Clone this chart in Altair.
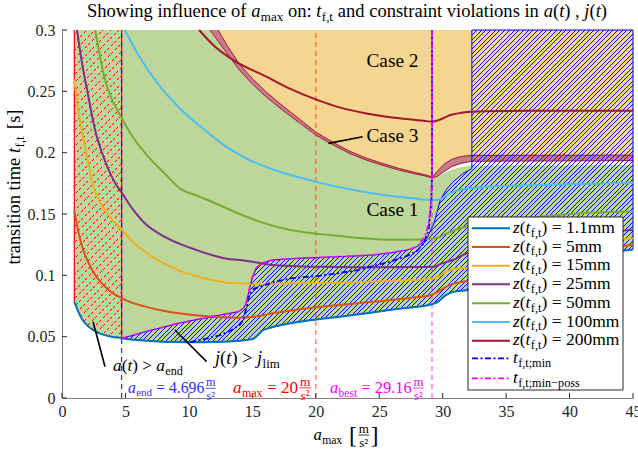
import altair as alt
import pandas as pd

# ---------------- data ----------------
a_11 = [0.97, 1.3, 1.6, 2.0, 2.6, 3.3, 3.9, 4.7, 5.3, 6.5, 7.9, 9.0, 10.5, 12.0, 13.1, 14.0, 15.0, 15.4, 15.8, 16.5, 18.0, 20.0, 21.9, 24.0, 25.8, 27.5, 28.5, 29.2, 29.7, 30.2, 30.8, 31.5, 32.5, 34.0, 36.0, 37.5, 39.0, 41.0, 43.0, 45.0]
t_11 = [0.0785, 0.0700, 0.0640, 0.0590, 0.0545, 0.0515, 0.0500, 0.0488, 0.0478, 0.0468, 0.0459, 0.0456, 0.0454, 0.0456, 0.0460, 0.0466, 0.0480, 0.0510, 0.0550, 0.0575, 0.0609, 0.0640, 0.0663, 0.0690, 0.0717, 0.0738, 0.0750, 0.0765, 0.0790, 0.0835, 0.0865, 0.0875, 0.0885, 0.0920, 0.0980, 0.1080, 0.1140, 0.1165, 0.1185, 0.1210]

a_5 = [0.97, 1.3, 1.6, 2.1, 2.7, 3.4, 4.0, 4.73, 5.5, 6.57, 7.8, 9.2, 10.5, 11.8, 13.0, 14.0, 15.0, 16.6, 18.5, 20.6, 22.5, 24.5, 26.5, 28.2, 29.0, 29.5, 30.0, 30.8, 31.5, 32.5, 35.0, 38.0, 41.0, 45.0]
t_5 = [0.1530, 0.1350, 0.1230, 0.1100, 0.0990, 0.0907, 0.0855, 0.0813, 0.0778, 0.0745, 0.0715, 0.0690, 0.0675, 0.0663, 0.0658, 0.0655, 0.0660, 0.0690, 0.0720, 0.0745, 0.0765, 0.0785, 0.0805, 0.0826, 0.0835, 0.0860, 0.0890, 0.0930, 0.0945, 0.0955, 0.1000, 0.1120, 0.1190, 0.1250]

a_15 = [0.97, 1.2, 1.58, 2.1, 2.5, 3.4, 4.0, 4.73, 5.5, 6.57, 7.8, 9.2, 10.5, 11.8, 13.0, 14.0, 15.0, 18.0, 21.9, 25.8, 28.2, 29.3, 29.8, 30.3, 30.8, 31.9, 34.0, 37.0, 40.0, 45.0]
t_15 = [0.2600, 0.2400, 0.2180, 0.1900, 0.1720, 0.1530, 0.1450, 0.1370, 0.1280, 0.1190, 0.1110, 0.1040, 0.0995, 0.0962, 0.0940, 0.0935, 0.0930, 0.0935, 0.0940, 0.0954, 0.0965, 0.0975, 0.1000, 0.1030, 0.1050, 0.1060, 0.1080, 0.1180, 0.1250, 0.1300]

a_25 = [1.18, 1.58, 2.0, 2.62, 3.4, 4.2, 4.73, 5.5, 6.57, 7.8, 9.2, 10.5, 11.8, 13.0, 14.0, 15.0, 16.6, 18.5, 20.6, 24.5, 28.2, 29.3, 29.8, 30.3, 30.8, 31.9, 34.0, 37.0, 40.0, 45.0]
t_25 = [0.3000, 0.2730, 0.2500, 0.2180, 0.1930, 0.1750, 0.1670, 0.1550, 0.1420, 0.1330, 0.1260, 0.1210, 0.1166, 0.1135, 0.1125, 0.1110, 0.1084, 0.1075, 0.1070, 0.1065, 0.1068, 0.1070, 0.1090, 0.1110, 0.1125, 0.1180, 0.1220, 0.1300, 0.1340, 0.1370]

a_50 = [2.62, 3.0, 3.4, 4.0, 4.67, 5.5, 6.57, 8.0, 9.46, 10.5, 11.8, 13.0, 14.0, 15.8, 18.0, 20.0, 21.9, 24.0, 25.8, 28.2, 29.2, 29.8, 30.3, 31.0, 31.9, 34.0, 37.0, 40.0, 45.0]
t_50 = [0.3000, 0.2780, 0.2590, 0.2420, 0.2290, 0.2140, 0.1995, 0.1840, 0.1696, 0.1655, 0.1600, 0.1545, 0.1500, 0.1430, 0.1370, 0.1340, 0.1320, 0.1300, 0.1290, 0.1293, 0.1298, 0.1315, 0.1340, 0.1370, 0.1400, 0.1430, 0.1470, 0.1500, 0.1520]

a_100 = [4.96, 6.0, 7.72, 9.5, 11.3, 12.5, 14.8, 17.0, 20.1, 22.5, 25.3, 27.5, 29.0, 29.5, 30.0, 30.6, 31.5, 33.5, 37.0, 41.0, 45.0]
t_100 = [0.3000, 0.2800, 0.2540, 0.2340, 0.2180, 0.2080, 0.1940, 0.1850, 0.1760, 0.1705, 0.1655, 0.1630, 0.1614, 0.1615, 0.1630, 0.1669, 0.1700, 0.1720, 0.1735, 0.1745, 0.1755]

a_200 = [10.8, 12.0, 13.5, 16.1, 18.0, 20.1, 22.0, 24.0, 26.6, 28.5, 29.2, 29.8, 30.6, 31.5, 32.2, 35.0, 40.0, 45.0]
t_200 = [0.3000, 0.2870, 0.2755, 0.2620, 0.2520, 0.2430, 0.2365, 0.2320, 0.2280, 0.2260, 0.2253, 0.2270, 0.2307, 0.2325, 0.2334, 0.2340, 0.2342, 0.2342]

tmin_a = [10.1, 11.2, 12.4, 13.3, 14.0, 14.3, 14.55, 14.8, 15.1, 15.6, 16.5, 18.0, 20.6, 23.2, 25.8, 27.0, 27.9, 28.5, 28.9, 29.1, 29.16, 29.16]
tmin_t = [0.0455, 0.0480, 0.0510, 0.0550, 0.0595, 0.0640, 0.0744, 0.0850, 0.0890, 0.0907, 0.0940, 0.0975, 0.1000, 0.1040, 0.1110, 0.1150, 0.1190, 0.1260, 0.1370, 0.1600, 0.1800, 0.3000]

tposs_a = [4.7, 5.0, 6.57, 9.2, 11.8, 13.9, 14.3, 14.5, 14.8, 15.0, 15.3, 15.8, 16.6, 18.5, 20.6, 22.5, 24.5, 26.0, 27.2, 28.0, 28.6, 28.9, 29.1, 29.16, 29.16]
tposs_t = [0.0488, 0.0495, 0.0540, 0.0610, 0.0663, 0.0704, 0.0730, 0.0770, 0.0900, 0.0980, 0.1060, 0.1100, 0.1125, 0.1138, 0.1147, 0.1155, 0.1166, 0.1185, 0.1206, 0.1235, 0.1315, 0.1424, 0.1610, 0.1800, 0.3000]

# boundary of the j(t) > j_lim region (upper edge)
hup_a = [4.7, 5.0, 6.57, 9.2, 11.8, 13.9, 14.3, 14.5, 14.8, 15.0, 15.3, 15.8, 16.6, 18.5, 20.6, 22.5, 24.5, 26.0, 27.2, 28.0, 28.7, 29.3, 29.8, 30.3, 30.8, 31.6, 32.3]
hup_t = [0.0488, 0.0495, 0.0540, 0.0610, 0.0663, 0.0704, 0.0730, 0.0770, 0.0900, 0.0980, 0.1060, 0.1100, 0.1125, 0.1138, 0.1147, 0.1155, 0.1166, 0.1185, 0.1206, 0.1235, 0.1290, 0.1420, 0.1610, 0.1700, 0.1760, 0.1830, 0.1870]

# Case 3 band edges
blo_a = [11.66, 12.3, 13.0, 14.0, 15.0, 16.1, 17.5, 18.8, 20.0, 21.4, 22.7, 24.0, 25.3, 26.6, 27.8, 28.6, 29.2, 29.6, 30.1, 30.7, 31.4, 32.3, 45.0]
blo_t = [0.3000, 0.2910, 0.2810, 0.2672, 0.2560, 0.2454, 0.2337, 0.2237, 0.2143, 0.2061, 0.1992, 0.1939, 0.1896, 0.1857, 0.1828, 0.1810, 0.1794, 0.1808, 0.1845, 0.1885, 0.1912, 0.1930, 0.1935]
bup_a = [12.3, 13.0, 14.0, 15.0, 16.1, 17.5, 18.8, 20.0, 21.4, 22.7, 24.0, 25.3, 26.6, 27.8, 28.6, 29.2, 29.6, 30.1, 30.7, 31.4, 32.3, 45.0]
bup_t = [0.3000, 0.2875, 0.2720, 0.2604, 0.2494, 0.2372, 0.2267, 0.2168, 0.2082, 0.2010, 0.1955, 0.1911, 0.1870, 0.1839, 0.1820, 0.1802, 0.1850, 0.1905, 0.1945, 0.1968, 0.1978, 0.1980]
# top of Case 1 region where it leaves the band
gtop_a = [29.6, 30.1, 30.7, 31.4, 32.3, 45.0]
gtop_t = [0.1806, 0.1830, 0.1860, 0.1882, 0.1895, 0.1900]

a_left = 0.97
a_end = 4.696
a_maxv = 20.0
a_best = 29.16
a_jblock = 32.3

z_names = ["1.1mm", "5mm", "15mm", "25mm", "50mm", "100mm", "200mm"]
z_colors = ["#0072BD", "#D95319", "#EDB120", "#7E2F8E", "#77AC30", "#4DBEEE", "#A2142F"]
z_a = [a_11, a_5, a_15, a_25, a_50, a_100, a_200]
z_t = [t_11, t_5, t_15, t_25, t_50, t_100, t_200]

x_ticks = [0, 5, 10, 15, 20, 25, 30, 35, 40, 45]
y_ticks = [0, 0.05, 0.1, 0.15, 0.2, 0.25, 0.3]

# ---------------- layout ----------------
W, H = 571, 368
XMAX, TMAX = 45.0, 0.3
SX, SY = W / XMAX, H / TMAX
X0, Y0 = 62, 30
FONT = "Liberation Serif"
GREEN = "#BDD69A"
ORANGE = "#F5D690"
BAND = "#C97B8B"

xs = alt.Scale(domain=[0, XMAX], nice=False, zero=False)
ys = alt.Scale(domain=[0, TMAX], nice=False, zero=False)
xaxis = alt.Axis(values=x_ticks, title=None, ticks=False, grid=False, format="~g",
                 labelFont=FONT, labelFontSize=16, labelColor="#262626",
                 domainColor="#808080", domainWidth=1, labelPadding=5, labelFlush=False)
yaxis = alt.Axis(values=y_ticks, title=None, ticks=False, grid=False, format="~g",
                 labelFont=FONT, labelFontSize=16, labelColor="#262626",
                 domainColor="#808080", domainWidth=1, labelPadding=7)


def X(f):
    return alt.X(f, type="quantitative", scale=xs, axis=xaxis)


def Y(f):
    return alt.Y(f, type="quantitative", scale=ys, axis=yaxis)


def line(a, t, **mk):
    df = pd.DataFrame({"a": a, "t": t, "i": list(range(len(a)))})
    return alt.Chart(df).mark_line(**mk).encode(x=X("a"), y=Y("t"), order="i:Q")


def bbox_px(a, t):
    return (max(a) - min(a)) * SX, (max(t) - min(t)) * SY


def hatch(w, h, period, lw, rgb, direction="/"):
    r = h / w
    s = (1 + r) / (1 + r * r)
    L = w + h
    col = "rgba(%d,%d,%d,1)" % rgb
    clr = "rgba(%d,%d,%d,0)" % rgb
    stops = [{"offset": 0, "color": clr}]
    k = 0
    while True:
        o0 = (period / 2 + k * period) / L
        o1 = o0 + lw / L
        if o1 >= 1:
            break
        stops += [{"offset": o0, "color": clr}, {"offset": o0, "color": col},
                  {"offset": o1, "color": col}, {"offset": o1, "color": clr}]
        k += 1
    stops.append({"offset": 1, "color": clr})
    if direction == "/":
        return {"gradient": "linear", "x1": 0, "y1": 0, "x2": s, "y2": s * r, "stops": stops}
    return {"gradient": "linear", "x1": 0, "y1": 1, "x2": s, "y2": 1 - s * r, "stops": stops}


layers = []

# ---- region polygons ----
g_a = a_11 + gtop_a[::-1] + [a for a in blo_a if a <= 29.2][::-1] + [a_left]
g_t = t_11 + gtop_t[::-1] + [t for a, t in zip(blo_a, blo_t) if a <= 29.2][::-1] + [TMAX]
layers.append(line(g_a, g_t, fill=GREEN, strokeWidth=0, interpolate="linear"))

o_a = bup_a + [XMAX, bup_a[0]]
o_t = bup_t + [TMAX, TMAX]
layers.append(line(o_a, o_t, fill=ORANGE, strokeWidth=0, interpolate="linear"))

b_a = bup_a + blo_a[::-1]
b_t = bup_t + blo_t[::-1]
layers.append(line(b_a, b_t, fill=BAND, strokeWidth=0, interpolate="linear"))
layers.append(line(bup_a, bup_t, stroke="#A2142F", strokeWidth=1, interpolate="linear"))
layers.append(line(blo_a, blo_t, stroke="#A2142F", strokeWidth=1, interpolate="linear"))

# red hatched a(t) > a_end region
r_a = [a for a in a_11 if a <= 4.7] + [4.7, a_left]
r_t = [t for a, t in zip(a_11, t_11) if a <= 4.7] + [TMAX, TMAX]
rw, rh = bbox_px(r_a, r_t)
layers.append(line(r_a, r_t, fill=hatch(rw, rh, 8.0, 1.25, (255, 0, 0), "/"), strokeWidth=0, interpolate="linear"))
layers.append(line(r_a, r_t, fill=hatch(rw, rh, 7.0, 2.4, (189, 214, 154), "\\"), strokeWidth=0, interpolate="linear"))

# blue hatched j(t) > j_lim region
j_a = [a for a in a_11 if a >= 4.7] + [XMAX, a_jblock] + hup_a[::-1]
j_t = [t for a, t in zip(a_11, t_11) if a >= 4.7] + [TMAX, TMAX] + hup_t[::-1]
jw, jh = bbox_px(j_a, j_t)
layers.append(line(j_a, j_t, fill=hatch(jw, jh, 4.7, 1.0, (0, 0, 255), "/"), stroke="#0000FF", strokeWidth=1, interpolate="linear"))

# red borders of a(t) > a_end region
rb = pd.DataFrame({"a": [a_left, 4.7], "t": [t_11[0], 0.0488], "t2": [TMAX, TMAX]})
layers.append(alt.Chart(rb).mark_rule(color="#FF0000", strokeWidth=1.2).encode(x=X("a"), y=Y("t"), y2="t2"))

# vertical reference lines
for av, colr, op in [(a_end, "#0000FF", 0.8), (a_maxv, "#FF2A00", 0.6), (a_best, "#FF00FF", 0.6)]:
    vdf = pd.DataFrame({"a": [av], "t": [0.0], "t2": [TMAX]})
    layers.append(alt.Chart(vdf).mark_rule(color=colr, opacity=op, strokeWidth=1.3, strokeDash=[5, 4])
                  .encode(x=X("a"), y=Y("t"), y2="t2"))

# z curves
for a, t, c in zip(z_a, z_t, z_colors):
    layers.append(line(a, t, stroke=c, strokeWidth=2, interpolate="monotone"))

layers.append(line(tmin_a, tmin_t, stroke="#0000FF", strokeWidth=1.8, strokeDash=[6, 2.5, 2, 2.5], interpolate="linear"))
layers.append(line(tposs_a, tposs_t, stroke="#FF00FF", strokeWidth=1.8, strokeDash=[6, 2.5, 2, 2.5], interpolate="linear"))

# annotation pointers
for pa, pt in [([21.0, 23.7], [0.2076, 0.2130]), ([2.45, 3.39], [0.0622, 0.0255]), ([8.9, 11.4], [0.0554, 0.0296])]:
    layers.append(line(pa, pt, stroke="black", strokeWidth=1.6, interpolate="linear"))

# inward ticks
xt = pd.DataFrame({"a": x_ticks, "t": [0.0] * len(x_ticks), "t2": [5 / SY] * len(x_ticks)})
layers.append(alt.Chart(xt).mark_rule(color="#262626", strokeWidth=1).encode(x=X("a"), y=Y("t"), y2="t2"))
yt = pd.DataFrame({"t": y_ticks, "a": [0.0] * len(y_ticks), "a2": [5 / SX] * len(y_ticks)})
layers.append(alt.Chart(yt).mark_rule(color="#262626", strokeWidth=1).encode(y=Y("t"), x=X("a"), x2="a2"))

# ---------------- text with sub-scripts ----------------
RW = {' ': 250, '!': 333, '(': 333, ')': 333, ',': 250, '-': 333, '.': 250, '/': 278, ':': 278, ';': 278,
      '=': 564, '>': 564, '[': 333, ']': 333, '\u00b2': 300, '\u2212': 564, 'C': 667, 'S': 556,
      'a': 444, 'b': 500, 'c': 444, 'd': 500, 'e': 444, 'f': 333, 'g': 500, 'h': 500, 'i': 278, 'j': 278,
      'k': 500, 'l': 278, 'm': 778, 'n': 500, 'o': 500, 'p': 500, 'q': 500, 'r': 333, 's': 389, 't': 278,
      'u': 500, 'v': 500, 'w': 722, 'x': 500, 'y': 500, 'z': 444}
IW = {' ': 250, '(': 333, ')': 333, 'a': 500, 'j': 278, 't': 278, 'z': 389}


def tw(s, italic):
    tb = IW if italic else RW
    return sum(tb.get(c, RW.get(c, 500)) for c in s) / 1000.0


def seg_w(k, txt):
    if k == "r":
        return tw(txt, False)
    if k == "i":
        return tw(txt, True)
    if k == "sub":
        return 0.7 * tw(txt, False) + 0.03
    if k == "frac":
        return max(0.78 * tw(txt[0], False), 0.78 * tw(txt[1], False)) + 0.2
    if k == "big":
        return 1.45 * tw(txt, False)
    return txt


pieces, bars = [], []


def px2d(x, y):
    return (x - X0) / SX, (Y0 + H - y) / SY


def rich(segs, x, y, S=None, width=None, align="left", col="black", vertical=False):
    w1 = sum(seg_w(k, t) for k, t in segs)
    if S is None:
        S = width / w1
    pos = {"left": 0, "center": -w1 * S / 2, "right": -w1 * S}[align]

    def put(text, along, down, size, style):
        lead = len(text) - len(text.lstrip(" "))
        along += lead * 0.25 * size
        text = text.strip(" ")
        if not text:
            return
        if vertical:
            px, py, ang = x + down, y - (pos + along), 270
        else:
            px, py, ang = x + pos + along, y + down, 0
        a, t = px2d(px, py)
        pieces.append(dict(a=a, t=t, text=text, fs=size, col=col, ang=ang, style=style))

    for k, txt in segs:
        w = seg_w(k, txt) * S
        if k == "r":
            put(txt, 0, 0, S, "n")
        elif k == "i":
            put(txt, 0, 0, S, "i")
        elif k == "sub":
            put(txt, 0.02 * S, 0.22 * S, 0.7 * S, "n")
        elif k == "big":
            put(txt, 0, 0.2 * S, 1.45 * S, "n")
        elif k == "frac":
            num, den = txt
            fs = 0.78 * S
            wn = tw(num, False) * fs
            wd = tw(den, False) * fs
            put(num, (w - wn) / 2, -0.42 * S, fs, "n")
            put(den, (w - wd) / 2, 0.42 * S, fs, "n")
            a1, t1 = px2d(x + pos + 0.08 * S, y - 0.3 * S)
            a2, t2 = px2d(x + pos + w - 0.08 * S, y - 0.3 * S)
            bars.append(dict(a=a1, t=t1, a2=a2, t2=t2, col=col))
        pos += w
    return S


MS = ("m", "s\u00b2")
rich([("r", "Showing influence of "), ("i", "a"), ("sub", "max"), ("r", " on: "), ("i", "t"), ("sub", "f,t"),
      ("r", " and constraint violations in "), ("i", "a"), ("r", "("), ("i", "t"), ("r", ")"), ("r", " , "),
      ("i", "j"), ("r", "("), ("i", "t"), ("r", ")")], 347, 17, width=520, align="center")
rich([("i", "a"), ("sub", "max"), ("sp", 0.4), ("big", "["), ("frac", MS), ("big", "]")], 346, 440, width=65, align="center")
rich([("r", "transition time "), ("i", "t"), ("sub", "f,t"), ("sp", 0.4), ("r", "[s]")], 20, 187, width=155,
     align="center", vertical=True)
for lbl, yb in [("Case 2", 66.5), ("Case 3", 141.5), ("Case 1", 216)]:
    rich([("r", lbl)], 392.5, yb, width=52, align="center")
rich([("i", "a"), ("r", "("), ("i", "t"), ("r", ")"), ("r", " > "), ("i", "a"), ("sub", "end")], 113, 371, width=70)
rich([("i", "j"), ("r", "("), ("i", "t"), ("r", ")"), ("r", " > "), ("i", "j"), ("sub", "lim")], 215, 364, width=65)
rich([("i", "a"), ("sub", "end"), ("r", " = 4.696"), ("frac", MS)], 128, 393, width=89, col="#2F2FFF")
rich([("i", "a"), ("sub", "max"), ("r", " = 20"), ("frac", MS)], 233, 393, width=79, col="#FF0000")
rich([("i", "a"), ("sub", "best"), ("r", " = 29.16"), ("frac", MS)], 330, 393, width=95, col="#FF00FF")

# legend
leg_rows = [228.3, 247.0, 265.7, 284.3, 303.3, 322.0, 340.7, 358.3, 378.3]
leg_x0, leg_x1, leg_y0, leg_y1 = 468, 623, 217, 390
layers_leg = [alt.Chart(pd.DataFrame({"d": [0]})).mark_rect(fill="white", stroke="#262626", strokeWidth=1).encode(
    x=alt.value(leg_x0 - X0), x2=alt.value(leg_x1 - X0), y=alt.value(leg_y0 - Y0), y2=alt.value(leg_y1 - Y0))]
leg_colors = z_colors + ["#0000FF", "#FF00FF"]
LS = None
for i, (yc, c) in enumerate(zip(leg_rows, leg_colors)):
    mk = dict(color=c, strokeWidth=2)
    if i >= 7:
        mk = dict(color=c, strokeWidth=1.8, strokeDash=[6, 2.5, 2, 2.5])
    layers_leg.append(alt.Chart(pd.DataFrame({"d": [0]})).mark_rule(**mk).encode(
        x=alt.value(472 - X0), x2=alt.value(510 - X0), y=alt.value(yc - Y0)))
    if i < 7:
        segs = [("i", "z"), ("r", "("), ("i", "t"), ("sub", "f,t"), ("r", ")"), ("r", " = " + z_names[i])]
    elif i == 7:
        segs = [("i", "t"), ("sub", "f,t;min")]
    else:
        segs = [("i", "t"), ("sub", "f,t;min\u2212poss")]
    if LS is None:
        LS = rich(segs, 513, yc + 4.5, width=102)
    else:
        rich(segs, 513, yc + 4.5, S=LS)

tdf = pd.DataFrame(pieces)
text_layers = []
for st, fs in [("n", "normal"), ("i", "italic")]:
    sub = tdf[tdf["style"] == st]
    text_layers.append(alt.Chart(sub).mark_text(align="left", baseline="alphabetic", font=FONT, fontStyle=fs)
                       .encode(x=X("a"), y=Y("t"), text="text:N",
                               size=alt.Size("fs:Q", scale=None, legend=None),
                               color=alt.Color("col:N", scale=None, legend=None),
                               angle=alt.Angle("ang:Q", scale=None)))
bdf = pd.DataFrame(bars)
bar_layer = alt.Chart(bdf).mark_rule(strokeWidth=0.8).encode(
    x=X("a"), x2="a2", y=Y("t"), y2="t2", color=alt.Color("col:N", scale=None, legend=None))

chart = alt.layer(*(layers + layers_leg + text_layers + [bar_layer])).properties(
    width=W, height=H, autosize="none",
    padding={"left": X0, "top": Y0, "right": 638 - X0 - W, "bottom": 451 - Y0 - H},
    background="white",
).configure_view(stroke=None)

chart.save("out.html", embed_options={"renderer": "svg", "actions": False})
